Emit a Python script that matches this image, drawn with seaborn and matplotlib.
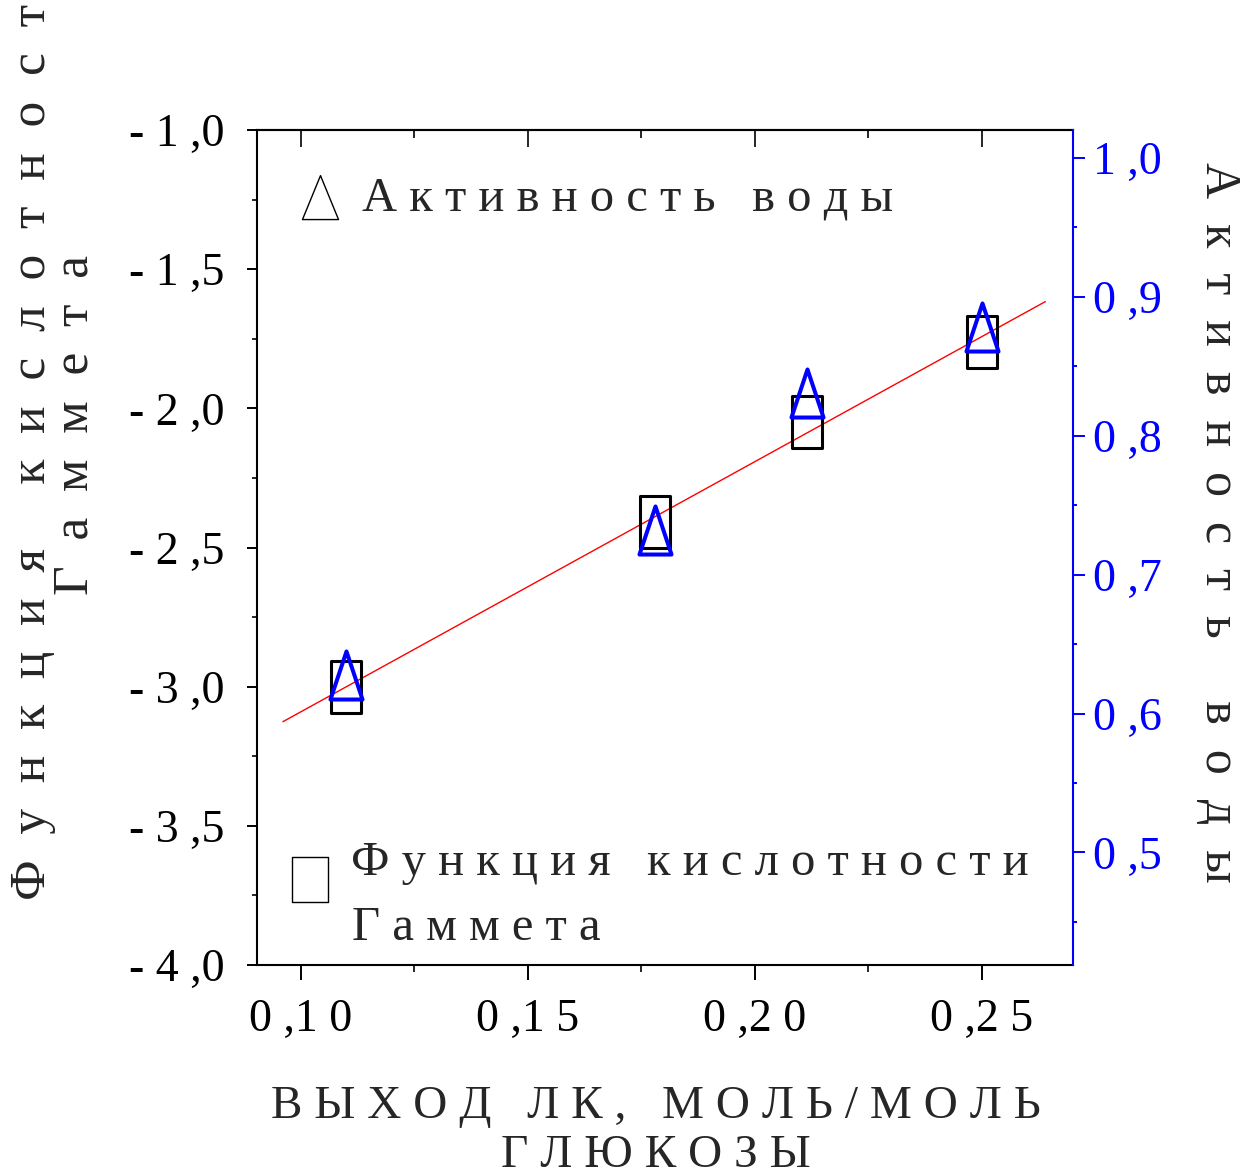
import numpy as np
import pandas as pd
import matplotlib
matplotlib.use("Agg")
import matplotlib.pyplot as plt
import seaborn as sns
from matplotlib.path import Path
from matplotlib.markers import MarkerStyle
from matplotlib.lines import Line2D
from matplotlib.ticker import MultipleLocator, FixedLocator, FuncFormatter

# Lactic acid yield, mol/mol glucose
lk_yield = [0.110, 0.178, 0.2115, 0.250]
# Hammett acidity function H0
hammett = [-3.00, -2.41, -2.05, -1.76]
# Water activity
water_activity = [0.628, 0.732, 0.831, 0.878]
# x span of the fitted straight line
fit_span = [0.096, 0.264]

x_ticks = [0.10, 0.15, 0.20, 0.25]
left_ticks = [-4.0, -3.5, -3.0, -2.5, -2.0, -1.5, -1.0]
right_ticks = [0.5, 0.6, 0.7, 0.8, 0.9, 1.0]

x_label = ["ВЫХОД ЛК, МОЛЬ/МОЛЬ", "ГЛЮКОЗЫ"]
left_label = ["Функция кислотности", "Гаммета"]
right_label = "Активность воды"
legend_aw = "Активность воды"
legend_h0 = ["Функция кислотности", "Гаммета"]

SERIF = "Liberation Serif"


def spaced(text, gap=1):
    """Wide letter spacing: put `gap` spaces between characters."""
    return (" " * gap).join(text)


def tick_text(v, digits):
    """Decimal comma, spaced digits, comma kept tight to the next digit."""
    return spaced(f"{v:.{digits}f}".replace(".", ",")).replace(", ", ",")


def box_marker(ratio, shift=0.0):
    v = [(-ratio, shift - 1), (ratio, shift - 1), (ratio, shift + 1),
         (-ratio, shift + 1), (-ratio, shift - 1)]
    return MarkerStyle(Path(v, closed=True))


def tri_marker(ratio, shift=0.0):
    v = [(0, shift + 1), (-ratio, shift - 1), (ratio, shift - 1), (0, shift + 1)]
    return MarkerStyle(Path(v, closed=True))


sns.set_style("ticks")
plt.rcParams["font.family"] = [SERIF, "DejaVu Serif"]
plt.rcParams["axes.linewidth"] = 1.5

fig = plt.figure(figsize=(12.42, 11.76), dpi=100)
W, H = 1242, 1176
ax = fig.add_axes([257 / W, 1 - 965 / H, 816 / W, 835 / H])

df = pd.DataFrame({"x": lk_yield, "h0": hammett, "aw": water_activity})

# fitted straight line through the acidity-function points
coef = np.polyfit(lk_yield, hammett, 1)
fit_x = np.array(fit_span)
sns.lineplot(x=fit_x, y=np.polyval(coef, fit_x), ax=ax, color="red", lw=1.0)

sns.lineplot(data=df, x="x", y="h0", ax=ax, estimator=None, sort=False,
             linestyle="none", marker=box_marker(0.585), markersize=38,
             mfc="none", mec="black", mew=2.2)

ax.set_xlim(0.0903, 0.2701)
ax.set_ylim(-4.0, -1.0)
ax.set_xlabel("")
ax.set_ylabel("")

ax.xaxis.set_major_locator(FixedLocator(x_ticks))
ax.xaxis.set_minor_locator(MultipleLocator(0.025))
ax.yaxis.set_major_locator(FixedLocator(left_ticks))
ax.yaxis.set_minor_locator(MultipleLocator(0.25))
ax.xaxis.set_major_formatter(FuncFormatter(lambda v, p: tick_text(v, 2)))
ax.yaxis.set_major_formatter(FuncFormatter(lambda v, p: tick_text(v, 1)))

ax.tick_params(axis="x", which="major", direction="out", length=10.8, width=1.4,
               pad=13, labelsize=33, colors="black")
ax.tick_params(axis="x", which="minor", direction="out", length=5, width=1.4)
ax.tick_params(axis="y", which="major", direction="out", length=7.2, width=1.4,
               pad=16, labelsize=33, colors="black")
ax.tick_params(axis="y", which="minor", direction="out", length=3.6, width=1.4)
for s in ["left", "bottom", "top"]:
    ax.spines[s].set_color("black")
    ax.spines[s].set_linewidth(1.5)
ax.spines["right"].set_visible(False)

# inward ticks along the top edge
top = ax.secondary_xaxis("top")
top.xaxis.set_major_locator(FixedLocator(x_ticks))
top.xaxis.set_minor_locator(MultipleLocator(0.025))
top.tick_params(axis="x", which="major", direction="in", length=12, width=1.4, labeltop=False)
top.tick_params(axis="x", which="minor", direction="in", length=5.8, width=1.4)
top.spines["top"].set_linewidth(1.5)

# water activity on the right-hand axis
ax2 = ax.twinx()
sns.lineplot(data=df, x="x", y="aw", ax=ax2, estimator=None, sort=False,
             linestyle="none", marker=tri_marker(0.667), markersize=34.6,
             mfc="none", mec="blue", mew=2.9)
ax2.set_ylim(0.419, 1.020)
ax2.set_xlabel("")
ax2.set_ylabel("")
ax2.yaxis.set_major_locator(FixedLocator(right_ticks))
ax2.yaxis.set_minor_locator(MultipleLocator(0.05))
ax2.yaxis.set_major_formatter(FuncFormatter(lambda v, p: tick_text(v, 1)))
ax2.tick_params(axis="y", which="major", direction="out", length=8.6, width=1.4,
                pad=6, labelsize=33, colors="blue")
ax2.tick_params(axis="y", which="minor", direction="out", length=3, width=1.4, colors="blue")
for s in ["left", "bottom", "top"]:
    ax2.spines[s].set_visible(False)
ax2.spines["right"].set_color("blue")
ax2.spines["right"].set_linewidth(1.5)

# legends
prop = {"family": SERIF, "size": 35}
h_aw = Line2D([], [], ls="none", marker=tri_marker(0.82, -0.14), markersize=36.1,
              mfc="none", mec="black", mew=1.0)
leg1 = ax2.legend(handles=[h_aw], labels=[spaced(legend_aw)], loc="upper left",
                  bbox_to_anchor=(0.048, 0.944), frameon=False, borderpad=0,
                  borderaxespad=0, handlelength=1.0, handletextpad=0.35, prop=prop)
ax2.add_artist(leg1)

h_h0 = Line2D([], [], ls="none", marker=box_marker(0.82, -0.975), markersize=64,
              mfc="none", mec="black", mew=1.0)
ax2.legend(handles=[h_h0], labels=[spaced(legend_h0[0])], loc="upper left",
           bbox_to_anchor=(0.0355, 0.148), frameon=False, borderpad=0,
           borderaxespad=0, handlelength=1.0, handletextpad=0.33, prop=prop)
ax2.text((352 - 257) / 816, (965 - 940) / 835, spaced(legend_h0[1]),
         transform=ax2.transAxes, ha="left", va="baseline", fontsize=35, family=SERIF)

# axis titles (left one in two separately centred lines)
fig.text(33 / W, 1 - 425 / H, spaced(left_label[0], 2),
         rotation=90, ha="center", va="center", fontsize=37, family=SERIF)
fig.text(75 / W, 1 - 425 / H, spaced(left_label[1], 2),
         rotation=90, ha="center", va="center", fontsize=37, family=SERIF)
fig.text(1218 / W, 1 - 522 / H, spaced(right_label, 2), rotation=-90,
         ha="center", va="center", fontsize=36, family=SERIF)
fig.text(656 / W, 1 - 1085 / H, "\n".join(spaced(t) for t in x_label),
         ha="center", va="top", multialignment="center", fontsize=34,
         linespacing=1.22, family=SERIF)

fig.savefig("out.png", dpi=100, facecolor="white")
